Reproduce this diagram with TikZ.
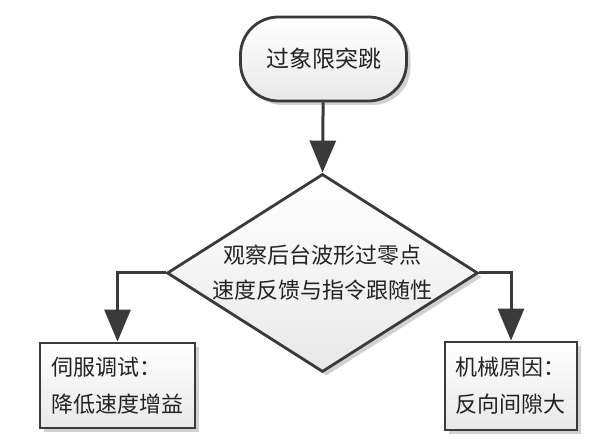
\documentclass[tikz,border=0pt]{standalone}
\usepackage{fontspec}
\setmainfont{Noto Sans CJK SC}
\usetikzlibrary{shapes.geometric,arrows.meta,shadows}
\definecolor{edge}{HTML}{3A3A3A}
\definecolor{txt}{HTML}{222222}
\begin{document}
\begin{tikzpicture}[x=1pt,y=-1pt,
  shapebase/.style={draw=edge, line width=2.8pt, top color=white, bottom color=black!9,
    text=txt, drop shadow={shadow xshift=4pt, shadow yshift=-4pt, fill=black, opacity=0.18}},
  termbox/.style={shapebase, minimum width=166pt, minimum height=84pt, rounded corners=38pt, inner sep=0pt, font=\fontsize{23}{28}\selectfont},
  decbox/.style={shapebase, diamond, aspect=1.57, minimum width=311pt, minimum height=198pt, inner sep=0pt, align=center, font=\fontsize{22}{35}\selectfont},
  procbox/.style={shapebase, inner sep=0pt, align=left, font=\fontsize{22}{37}\selectfont},
  conn/.style={draw=edge, line width=3pt, -{Triangle[width=26pt,length=32pt]}}
]
\useasboundingbox (0,0) rectangle (600,443);
\node[termbox] (start) at (323.5,59) {过象限突跳};
\node[decbox] (dec) at (322.5,273) {观察后台波形过零点\\速度反馈与指令跟随性};
\node[procbox, minimum width=155pt, minimum height=85pt, text width=133pt] (left) at (117.5,385.5) {伺服调试：\\降低速度增益};
\node[procbox, minimum width=132pt, minimum height=88pt, text width=112pt] (right) at (511,386) {机械原因：\\反向间隙大};
\draw[conn] (start) -- (dec.north);
\draw[conn] (dec.west) -| (left.north);
\draw[conn] (dec.east) -| (right.north);
\end{tikzpicture}
\end{document}
